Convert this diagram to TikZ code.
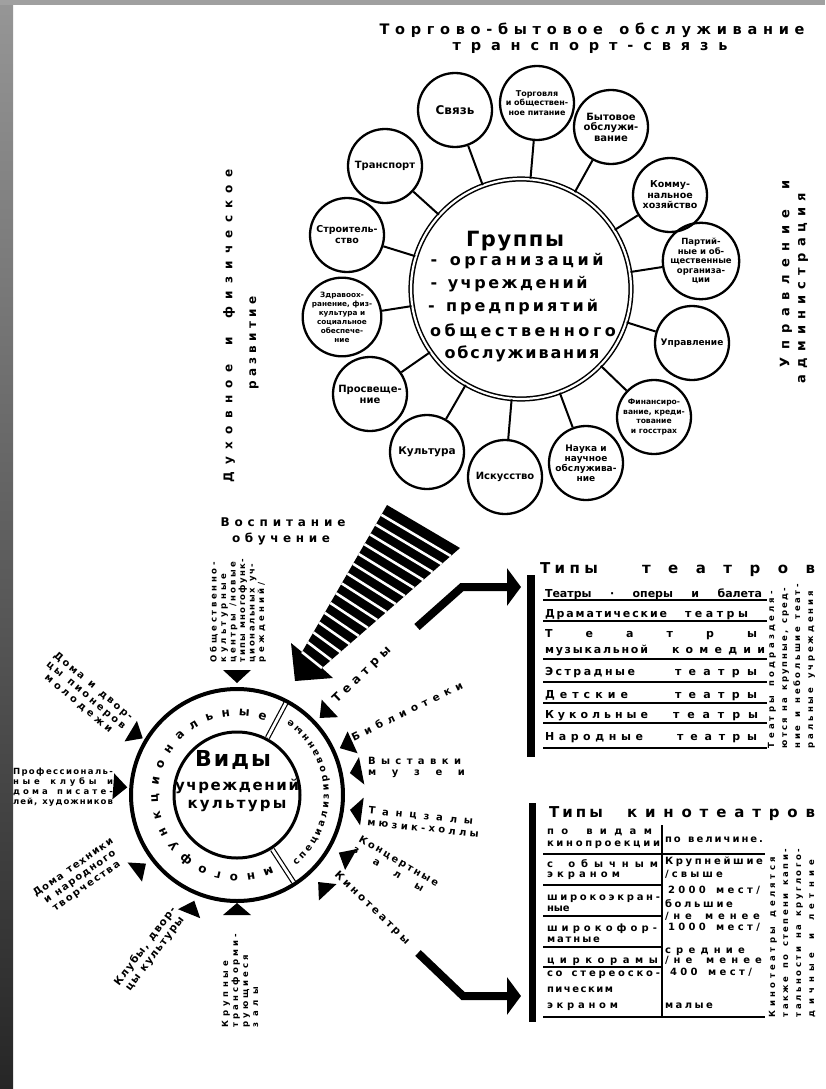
\documentclass[tikz,border=0pt]{standalone}
\usepackage{fontspec}
\setmainfont{DejaVu Sans}
\usetikzlibrary{calc,decorations.text,arrows.meta}
\makeatletter
\newcommand\spreadto[2]{\makebox[#1][s]{\@tfor\sp@tok:=#2\do{\sp@tok\hfil}\unskip}}
\makeatother
\newcommand\fsz[2]{\fontsize{#1}{#2}\selectfont}
\definecolor{stripTop}{RGB}{150,150,150}
\definecolor{stripBot}{RGB}{38,38,38}
\definecolor{barGray}{RGB}{160,160,160}
\newcommand\tri[4]{\fill ($(V)+(#1:#2pt)$) -- ($(V)+(#1:#2pt)+(#1:#3pt)+(#1+90:#4pt)$) -- ($(V)+(#1:#2pt)+(#1:#3pt)+(#1-90:#4pt)$) -- cycle;}
\newcommand\tw[6]{\node[lbl,anchor=base #2,font=\bfseries\fsz{11}{11}] (#1) at (#3,#4) {\spreadto{#5pt}{#6}};}
\newcommand\kw[6]{\node[lbl,anchor=base #2,font=\bfseries\fsz{10}{10}] (#1) at (#3,#4) {\spreadto{#5pt}{#6}};}
\begin{document}
\begin{tikzpicture}[x=1pt,y=-1pt,
  lbl/.style={inner sep=0pt,outer sep=0pt},
  smallc/.style={circle,draw,line width=2.3pt,minimum size=74pt,inner sep=0pt,align=center},
  conn/.style={line width=2pt},
  bigc/.style={circle,draw,line width=1.5pt,double,double distance=2.2pt,minimum size=220pt,inner sep=0pt},
  bentarrow/.style={line width=8pt,-{Triangle[length=14pt,width=37pt]}},
  tabline/.style={line width=1.6pt},
  sepline/.style={double,line width=1.2pt,double distance=2.8pt}
]
\useasboundingbox (0,0) rectangle (825,1089);
\fill[white] (0,0) rectangle (825,1089);

% ---------- upper part ----------
\node[lbl,font=\bfseries\fsz{14.5}{14.5}] (title1) at (592,30) {\spreadto{425pt}{Торгово-бытовое~обслуживание}};
\node[lbl,font=\bfseries\fsz{14.5}{14.5}] (title2) at (590,48) {\spreadto{275pt}{транспорт-связь}};

\node[bigc] (G) at (521,289) {};
\node[smallc,font=\bfseries\fsz{12}{12}] (s1) at (455,110) {Связь};
\node[smallc,font=\bfseries\fsz{8}{9.5}] (s2) at (537,103) {Торговля\\и обществен-\\ное питание};
\node[smallc,font=\bfseries\fsz{10}{10.5}] (s3) at (611,127) {Бытовое\\обслужи-\\вание};
\node[smallc,font=\bfseries\fsz{9.5}{10.5}] (s4) at (670,195) {Комму-\\нальное\\хозяйство};
\node[smallc,font=\bfseries\fsz{8.5}{9.5}] (s5) at (701,261) {Партий-\\ные и об-\\щественные\\организа-\\ции};
\node[smallc,font=\bfseries\fsz{9}{9}] (s6) at (692,343) {Управление};
\node[smallc,font=\bfseries\fsz{7.6}{9.5}] (s7) at (654,417) {Финансиро-\\вание, креди-\\тование\\и госстрах};
\node[smallc,font=\bfseries\fsz{9}{10}] (s8) at (586,463) {Наука и\\научное\\обслужива-\\ние};
\node[smallc,font=\bfseries\fsz{10}{10}] (s9) at (505,477) {Искусство};
\node[smallc,font=\bfseries\fsz{10.5}{10.5}] (s10) at (427,452) {Культура};
\node[smallc,font=\bfseries\fsz{10}{11}] (s11) at (370,394) {Просвеще-\\ние};
\node[smallc,font=\bfseries\fsz{7.3}{9}] (s12) at (342,317) {Здравоох-\\ранение, физ-\\культура и\\социальное\\обеспече-\\ние};
\node[smallc,font=\bfseries\fsz{9.5}{11}] (s13) at (347,235) {Строитель-\\ство};
\node[smallc,font=\bfseries\fsz{10}{10}] (s14) at (385,166) {Транспорт};
\foreach \i in {1,...,14} \draw[conn] (G) -- (s\i);

\node[lbl,font=\bfseries\fsz{21}{21}] (g0) at (515,241) {\spreadto{98pt}{Группы}};
\node[lbl,font=\bfseries\fsz{16}{16}] (g1) at (517,261) {\spreadto{173pt}{-~организаций}};
\node[lbl,font=\bfseries\fsz{16}{16}] (g2) at (509,284) {\spreadto{157pt}{-~учреждений}};
\node[lbl,font=\bfseries\fsz{16}{16}] (g3) at (513,307) {\spreadto{170pt}{-~предприятий}};
\node[lbl,font=\bfseries\fsz{16}{16}] (g4) at (523,331) {\spreadto{186pt}{общественного}};
\node[lbl,font=\bfseries\fsz{16}{16}] (g5) at (522,354) {\spreadto{155pt}{обслуживания}};

\node[lbl,rotate=90,font=\bfseries\fsz{12}{12}] (dux1) at (229,326) {\spreadto{313pt}{Духовное~и~физическое}};
\node[lbl,rotate=90,font=\bfseries\fsz{12}{12}] (dux2) at (254,343) {\spreadto{93pt}{развитие}};
\node[lbl,rotate=90,font=\bfseries\fsz{13}{13}] (upr1) at (786,274) {\spreadto{187pt}{Управление~и}};
\node[lbl,rotate=90,font=\bfseries\fsz{13}{13}] (upr2) at (803,288) {\spreadto{190pt}{администрация}};

% ---------- striped arrow ----------
\node[lbl,font=\bfseries\fsz{12}{12}] (vosp1) at (283,522) {\spreadto{125pt}{Воспитание}};
\node[lbl,font=\bfseries\fsz{12}{12}] (vosp2) at (281,539) {\spreadto{98pt}{обучение}};
\coordinate (wA) at (387,505);
\coordinate (wB) at (460,548);
\coordinate (wC) at (302,652);
\coordinate (wD) at (322,668);
\coordinate (wL) at (291,643);
\coordinate (wR) at (333,678);
\coordinate (wT) at (295,681);
\fill (wA) -- (wB) -- (wD) -- (wR) -- (wT) -- (wL) -- (wC) -- cycle;
\foreach \k in {1,...,15} \draw[white,line width=2.6pt] ($(wA)!\k/15!(wC)$) -- ($(wB)!\k/15!(wD)$);

% ---------- lower circle ----------
\coordinate (V) at (237,795);
\node[circle,draw,line width=4pt,minimum size=212pt,inner sep=0pt] (Vout) at (V) {};
\node[circle,draw,line width=3pt,minimum size=126pt,inner sep=0pt] (Vin) at (V) {};
\node[lbl,font=\bfseries\fsz{22}{22}] (v1) at (233,760) {\spreadto{76pt}{Виды}};
\node[lbl,font=\bfseries\fsz{15}{15}] (v2) at (237,786) {\spreadto{124pt}{учреждений}};
\node[lbl,font=\bfseries\fsz{15}{15}] (v3) at (237,806) {\spreadto{99pt}{культуры}};
\draw[sepline] ($(V)+(62:65pt)$) -- ($(V)+(62:104pt)$);
\draw[sepline] ($(V)+(-57:65pt)$) -- ($(V)+(-57:104pt)$);
\path[decorate,decoration={text along path,text align={fit to path},text={|\bfseries\fsz{12}{12}|многофункциональные}}] ($(V)+(64:79)$) arc[start angle=64,end angle=291,radius=79];
\path[decorate,decoration={text along path,text align={fit to path},text={|\bfseries\fsz{9.5}{9.5}|специализированные}}] ($(V)+(50:92)$) arc[start angle=50,end angle=-55,radius=92];

\tri{90}{112}{13}{14}
\tri{149}{110}{14}{12}
\tri{176}{110}{14}{13}
\tri{217}{114}{14}{12}
\tri{248}{114}{14}{12}
\tri{270}{108}{12}{14}
\tri{43}{113}{14}{12}
\tri{24.5}{113}{14}{12}
\tri{11}{115}{12}{14}
\tri{-7.5}{114}{12}{14}
\tri{-29.5}{117}{14}{12}
\tri{-47}{119}{14}{12}

\node[lbl,rotate=90,anchor=west,align=left,font=\bfseries\fsz{8.5}{9.5}] (obsch) at (238,662) {\spreadto{100pt}{Общественно-}\\\spreadto{88pt}{культурные}\\\spreadto{100pt}{центры~/новые}\\\spreadto{103pt}{типы~многофунк-}\\\spreadto{98pt}{циональных~уч-}\\\spreadto{80pt}{реждений/}};
\node[lbl,rotate=-40,align=center,font=\bfseries\fsz{10}{11.5}] (dom) at (86,695) {\spreadto{100pt}{Дома~и~двор-}\\\spreadto{100pt}{цы~пионеров}\\\spreadto{85pt}{молодежи}};
\node[lbl,anchor=east,align=right,font=\bfseries\fsz{8.5}{10}] (prof) at (113,787) {\spreadto{100pt}{Профессиональ-}\\\spreadto{100pt}{ные~клубы~и}\\\spreadto{100pt}{дома~писате-}\\\spreadto{100pt}{лей,~художников}};
\node[lbl,rotate=35,align=center,font=\bfseries\fsz{10}{11.5}] (tech) at (80,877) {\spreadto{95pt}{Дома~техники}\\\spreadto{85pt}{и~народного}\\\spreadto{80pt}{творчества}};
\node[lbl,rotate=53,align=center,font=\bfseries\fsz{10.5}{12}] (klub) at (150,950) {\spreadto{95pt}{Клубы,~двор-}\\\spreadto{90pt}{цы~культуры}};
\node[lbl,rotate=90,anchor=west,align=left,font=\bfseries\fsz{8.5}{10}] (krup) at (240,1027) {\spreadto{66pt}{Крупные}\\\spreadto{93pt}{трансформи-}\\\spreadto{72pt}{рующиеся}\\\spreadto{40pt}{залы}};

\node[lbl,rotate=44,font=\bfseries\fsz{12}{12}] (teatr) at (362,675) {\spreadto{76pt}{Театры}};
\node[lbl,rotate=26,font=\bfseries\fsz{10.5}{10.5}] (bibl) at (407,711) {\spreadto{122pt}{Библиотеки}};
\node[lbl,anchor=west,align=left,font=\bfseries\fsz{10}{11}] (vyst) at (368,767) {\spreadto{93pt}{Выставки}\\\spreadto{97pt}{музеи}};
\node[lbl,rotate=-6,anchor=west,align=left,font=\bfseries\fsz{10}{12}] (tanc) at (368,816) {\spreadto{105pt}{Танцзалы}\\\spreadto{112pt}{мюзик-холлы}};
\node[lbl,rotate=-30,align=left,font=\bfseries\fsz{10}{12}] (konc) at (396,866) {\spreadto{90pt}{Концертные}\\\spreadto{80pt}{залы}};
\node[lbl,rotate=-44,font=\bfseries\fsz{10.5}{10.5}] (kino) at (372,908) {\spreadto{100pt}{Кинотеатры}};

\coordinate (ta0) at (417,627);
\coordinate (ta1) at (462,587);
\coordinate (ta2) at (521,587);
\draw[bentarrow] (ta0) -- (ta1) -- (ta2);
\coordinate (ka0) at (418,953);
\coordinate (ka1) at (463,996);
\coordinate (ka2) at (521,996);
\draw[bentarrow] (ka0) -- (ka1) -- (ka2);

% ---------- theatre table ----------
\fill (527,575) rectangle (535,757);
\node[lbl,anchor=base west,font=\bfseries\fsz{15}{15}] (tt1) at (540,573) {\spreadto{58pt}{Типы}};
\node[lbl,anchor=base west,font=\bfseries\fsz{15}{15}] (tt2) at (642,573) {\spreadto{173pt}{театров}};
\node[lbl,anchor=base west,font=\bfseries\fsz{11}{11}] (ta) at (545,597) {\makebox[217pt][s]{Театры · оперы и балета}};
\tw{tb1}{west}{545}{617}{122}{Драматические}
\tw{tb2}{east}{748}{617}{63}{театры}
\tw{tc1}{west}{545}{637}{212}{Театры}
\tw{td1}{west}{545}{653}{103}{музыкальной}
\tw{td2}{east}{765}{653}{93}{комедии}
\tw{te1}{west}{545}{675}{90}{Эстрадные}
\tw{te2}{east}{757}{675}{82}{театры}
\tw{tf1}{west}{545}{698}{83}{Детские}
\tw{tf2}{east}{757}{698}{82}{театры}
\tw{tg1}{west}{545}{718}{103}{Кукольные}
\tw{tg2}{east}{758}{718}{85}{театры}
\tw{th1}{west}{545}{740}{98}{Народные}
\tw{th2}{east}{757}{740}{80}{театры}
\foreach \yy in {600,621,659,682,703,723,748} \draw[tabline] (543,\yy) -- (767,\yy);
\node[lbl,rotate=90,anchor=north west,align=left,font=\bfseries\fsz{8.5}{13}] (tnote) at (768,748) {\spreadto{157pt}{Театры~подразделя-}\\\spreadto{160pt}{ются~на~крупные,~сред-}\\\spreadto{164pt}{ние~и~небольшие~теат-}\\\spreadto{157pt}{ральные~учреждения}};

% ---------- cinema table ----------
\fill (529,803) rectangle (536,1022);
\node[lbl,anchor=base west,font=\bfseries\fsz{15}{15}] (kt1) at (549,817) {\spreadto{54pt}{Типы}};
\node[lbl,anchor=base west,font=\bfseries\fsz{15}{15}] (kt2) at (627,817) {\spreadto{188pt}{кинотеатров}};
\kw{ka}{west}{547}{834}{105}{по~видам}
\kw{kb}{west}{547}{846}{113}{кинопроекции}
\kw{kc}{west}{665}{842}{98}{по~величине.}
\kw{kd}{west}{547}{867}{111}{с~обычным}
\kw{ke}{west}{547}{877}{73}{экраном}
\kw{kf}{west}{547}{900}{113}{широкоэкран-}
\kw{kg}{west}{547}{911}{22}{ные}
\kw{kh}{west}{547}{931}{110}{широкофор-}
\kw{ki}{west}{547}{942}{53}{матные}
\kw{kj}{west}{547}{963}{111}{циркорамы}
\kw{kk}{west}{547}{976}{113}{со~стереоско-}
\kw{kl}{west}{547}{992}{66}{пическим}
\kw{km}{west}{547}{1008}{71}{экраном}
\kw{kn}{west}{665}{864}{98}{Крупнейшие}
\kw{ko}{west}{665}{877}{58}{/свыше}
\kw{kp}{west}{668}{893}{92}{2000~мест/}
\kw{kq}{west}{665}{907}{68}{большие}
\kw{kr}{west}{665}{919}{95}{/не~менее}
\kw{ks}{west}{668}{930}{92}{1000~мест/}
\kw{kt}{west}{665}{953}{80}{средние}
\kw{ku}{west}{665}{963}{97}{/не~менее}
\kw{kv}{west}{670}{975}{82}{400~мест/}
\kw{kw}{west}{665}{1008}{48}{малые}
\draw[tabline] (543,854) -- (765,854);
\foreach \yy in {885,916,947,967} \draw[tabline] (543,\yy) -- (662,\yy);
\draw[tabline] (543,1017) -- (765,1017);
\draw[tabline] (662,825) -- (662,1017);
\node[lbl,rotate=90,anchor=north west,align=left,font=\bfseries\fsz{8.5}{13}] (knote) at (769,1017) {\spreadto{160pt}{Кинотеатры~делятся}\\\spreadto{168pt}{также~по~степени~капи-}\\\spreadto{168pt}{тальности~на~круглого-}\\\spreadto{157pt}{дичные~и~летние}};

% ---------- frame strips ----------
\shade[top color=stripTop,bottom color=stripBot] (0,0) rectangle (13,1089);
\fill[barGray] (0,0) rectangle (825,5);
\end{tikzpicture}
\end{document}
